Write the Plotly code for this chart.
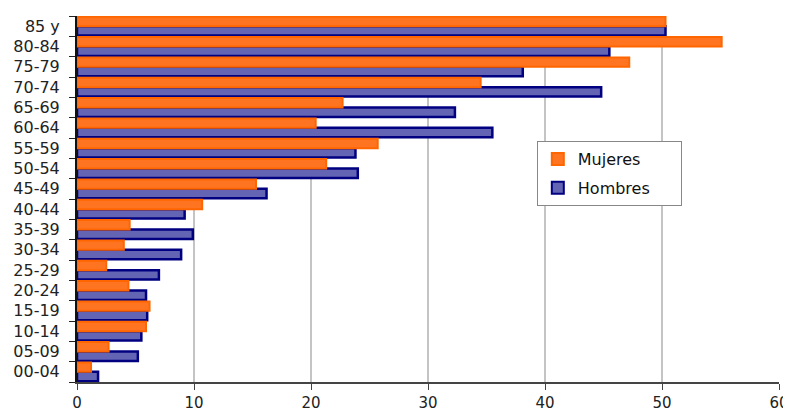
import plotly.graph_objects as go

categories = ["00-04", "05-09", "10-14", "15-19", "20-24", "25-29", "30-34", "35-39",
              "40-44", "45-49", "50-54", "55-59", "60-64", "65-69", "70-74", "75-79",
              "80-84", "85 y"]
mujeres = [1.2, 2.7, 5.9, 6.2, 4.4, 2.5, 4.0, 4.5, 10.7, 15.3, 21.3, 25.7, 20.4, 22.7,
           34.5, 47.2, 55.1, 50.3]
hombres = [1.8, 5.2, 5.5, 6.0, 5.9, 7.0, 8.9, 9.9, 9.2, 16.2, 24.0, 23.8, 35.5, 32.3,
           44.8, 38.1, 45.5, 50.3]
x_ticks = [0, 10, 20, 30, 40, 50, 60]
series_names = ["Mujeres", "Hombres"]

FONT = "DejaVu Sans, Verdana, sans-serif"
PAD = "\u00a0" * 5  # widen the legend box like the reference

fig = go.Figure()
fig.add_trace(go.Bar(
    y=categories, x=hombres, name=series_names[1] + PAD, orientation="h",
    marker=dict(color="#6464b4", line=dict(color="#000080", width=2.5)),
    legendrank=2, legendgroup="h",
))
fig.add_trace(go.Bar(
    y=categories, x=mujeres, name=series_names[0] + PAD, orientation="h",
    marker=dict(color="#ff7420", line=dict(color="#ff6600", width=2)),
    legendrank=1, legendgroup="m",
))

# page body has an 8px default margin, so the figure is offset by 8px
fig.update_layout(
    width=783, height=406,
    margin=dict(l=69, r=12, t=8, b=32, autoexpand=False),
    paper_bgcolor="white", plot_bgcolor="white",
    barmode="group", bargap=0.07, bargroupgap=0.0,
    font=dict(family=FONT, size=16, color="#222"),
    showlegend=True,
    legend=dict(
        x=0.655, y=0.658, xanchor="left", yanchor="top",
        bgcolor="white", bordercolor="#888", borderwidth=1,
        font=dict(family=FONT, size=16, color="#111"),
        itemsizing="constant", tracegroupgap=5,
    ),
    xaxis=dict(
        range=[0, 60], tickvals=x_ticks, ticktext=[str(v) for v in x_ticks],
        showgrid=True, gridcolor="#c4c4c4", gridwidth=1.5,
        showline=True, linecolor="#444", linewidth=1.5,
        ticks="outside", ticklen=6, tickcolor="#444", zeroline=False,
        tickfont=dict(family=FONT, size=15, color="#222"), fixedrange=True,
        automargin=False, ticklabelstandoff=0,
    ),
    yaxis=dict(
        type="category",
        categoryorder="array", categoryarray=categories,
        showline=True, linecolor="#111", linewidth=2,
        ticks="outside", tickson="boundaries", ticklen=6, tickcolor="#222",
        tickfont=dict(family=FONT, size=16, color="#222"), showgrid=False,
        range=[-0.5, 17.5], fixedrange=True, automargin=False,
        ticklabelstandoff=12,
    ),
)

fig.write_html("out.html")
